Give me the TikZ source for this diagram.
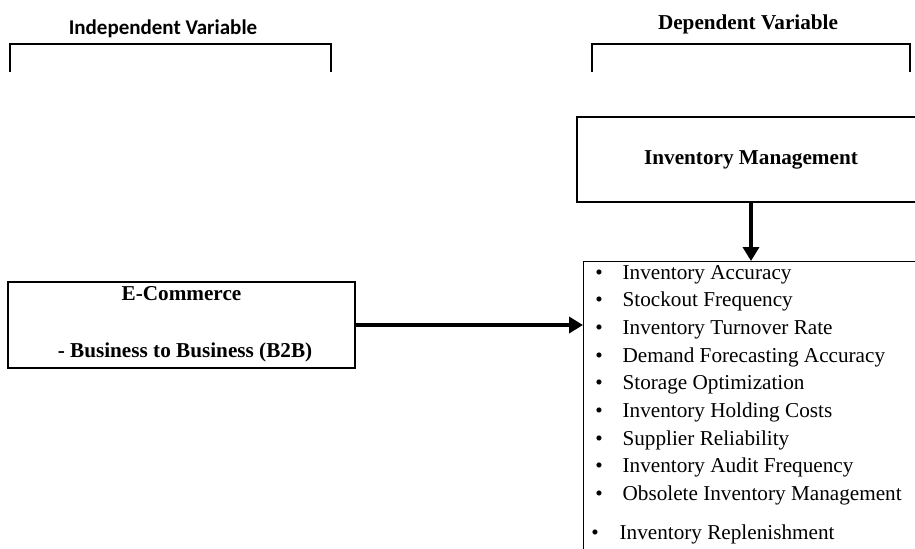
\documentclass[tikz,border=0pt]{standalone}
\usepackage{fontspec}
\setmainfont{Liberation Serif}
\newfontfamily\calfont{Carlito}
\usetikzlibrary{arrows.meta,positioning}

\begin{document}
\begin{tikzpicture}[x=0.5pt,y=-0.5pt,line width=0.6pt,
    box node/.style={rectangle,draw,inner sep=0pt},
    title node/.style={anchor=base,inner sep=0pt,font=\fontsize{10.6}{12}\selectfont\bfseries},
    item node/.style={anchor=base west,inner sep=0pt,font=\fontsize{10.6}{12}\selectfont},
    big arrow/.style={-{Triangle[length=7pt,width=8pt]},line width=2.2pt}]
  \clip (0,0) rectangle (915,548);
  % headings and brackets
  \node[title node,font=\calfont\fontsize{10.5}{12}\selectfont\bfseries] (indep) at (163,34) {Independent Variable};
  \node[title node] (dep) at (748,29) {Dependent Variable};
  \draw (10,72) -- (10,44) -- (331,44) -- (331,72);
  \draw (592,72) -- (592,44) -- (910,44) -- (910,72);
  % boxes
  \node[box node,minimum width=174pt,minimum height=42.5pt,
        font=\fontsize{10.6}{12}\selectfont\bfseries] (invmgmt) at (751,159.5) {Inventory Management};
  \node[box node,minimum width=173.5pt,minimum height=43pt] (ecom) at (181.5,325) {};
  \node[title node] (ecomtitle) at (181.5,300) {E-Commerce};
  \node[title node] (ecomsub) at (185,357) {- Business to Business (B2B)};
  \node[box node,anchor=north west,minimum width=171pt,minimum height=150pt] (indicators) at (583,261) {};
  % indicator list
  \foreach \txt [count=\i from 0] in {Inventory Accuracy,Stockout Frequency,Inventory Turnover Rate,
      Demand Forecasting Accuracy,Storage Optimization,Inventory Holding Costs,
      Supplier Reliability,Inventory Audit Frequency,Obsolete Inventory Management} {
    \node[item node,anchor=base] (b\i) at (599,279+27.7*\i) {\textbullet};
    \node[item node] (t\i) at (622,279+27.7*\i) {\txt};
  }
  \node[item node,anchor=base] (b9) at (595,539) {\textbullet};
  \node[item node] (t9) at (619,539) {Inventory Replenishment};
  % arrows
  \draw[big arrow] (ecom.east) -- (ecom.east -| indicators.west);
  \draw[big arrow] (invmgmt.south) -- (invmgmt.south |- indicators.north);
\end{tikzpicture}
\end{document}
